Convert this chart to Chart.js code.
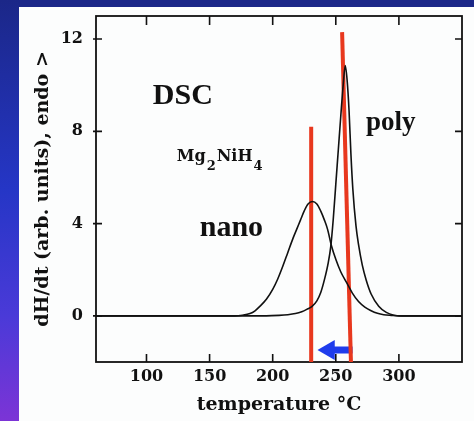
<!DOCTYPE html>
<html>
<head>
<meta charset="utf-8">
<script src="https://cdn.jsdelivr.net/npm/chart.js@4.4.1/dist/chart.umd.min.js"></script>
<style>
  body { margin:0; width:474px; height:421px; overflow:hidden; background:#fcfdfd; position:relative; }
  #topband { position:absolute; left:0; top:0; width:474px; height:7px; background:#1b2788; }
  #leftband { position:absolute; left:0; top:0; width:19px; height:421px;
    background:linear-gradient(#1b2788, #2536c6 45%, #4a3ad8 75%, #7c34d6); }
  canvas { position:absolute; left:0; top:0; }
</style>
</head>
<body>
<div id="topband"></div><div id="leftband"></div>
<canvas id="myChart" width="474" height="421"></canvas>
<script>
    // tick labels
    var xTicks = [100, 150, 200, 250, 300];
    var yTicks = [0, 4, 8, 12];

    // nano Mg2NiH4 curve
    var nanoTemp = [60, 170, 176, 182, 186, 190, 195, 200, 204, 208, 212, 216, 219, 222, 225, 228, 231.5,
                    235, 238, 241, 243.5, 246.5, 250, 254, 258.5, 263, 268, 273, 278, 283, 288, 294, 300, 350];
    var nanoHeat = [0, 0, 0.03, 0.1, 0.22, 0.42, 0.72, 1.15, 1.6, 2.15, 2.75, 3.35, 3.75, 4.15, 4.55, 4.85, 4.96,
                    4.85, 4.55, 4.15, 3.75, 3.05, 2.45, 1.9, 1.45, 1.0, 0.62, 0.38, 0.22, 0.11, 0.05, 0.02, 0, 0];

    // poly Mg2NiH4 curve
    var polyTemp = [60, 195, 205, 212, 218, 223, 227, 231, 235, 238, 241, 244, 246, 248, 250, 252, 254, 256, 257.5,
                    259, 260.5, 262, 263.5, 266, 268, 271, 274, 278, 284, 290, 296, 302, 350];
    var polyHeat = [0, 0, 0.02, 0.05, 0.1, 0.18, 0.28, 0.4, 0.65, 1.0, 1.57, 2.3, 3.0, 4.2, 5.7, 7.2, 8.7, 10.1, 10.85,
                    10.2, 8.9, 7.0, 5.5, 3.9, 3.1, 2.2, 1.57, 0.95, 0.42, 0.15, 0.03, 0, 0];

    // red peak markers (bottom, top)
    var nanoMarkT = [230.5, 230.5];
    var nanoMarkH = [-2, 8.2];
    var polyMarkT = [262, 255];
    var polyMarkH = [-2, 12.3];

    // blue arrow (tail -> head centre)
    var arrowT = [263.3, 244.6];
    var arrowH = [-1.48, -1.48];

    function pts(xs, ys) { return xs.map(function (x, i) { return {x: x, y: ys[i]}; }); }

    var labelFont = {family: 'DejaVu Serif', weight: 'bold', size: 16};
    var titleFont = {family: 'DejaVu Serif', weight: 'bold', size: 19};

    const frameTicks = {
        id: 'frameTicks',
        beforeDatasetsDraw(chart) {
            const ctx = chart.ctx, a = chart.chartArea, xs = chart.scales.x, ys = chart.scales.y;
            ctx.save();
            ctx.strokeStyle = '#111';
            ctx.lineWidth = 1.8;
            ctx.strokeRect(a.left, a.top, a.right - a.left, a.bottom - a.top);
            ctx.lineWidth = 1.6;
            ctx.beginPath();
            xTicks.forEach(function (v) {
                const px = xs.getPixelForValue(v);
                ctx.moveTo(px, a.bottom); ctx.lineTo(px, a.bottom - 8);
                ctx.moveTo(px, a.top); ctx.lineTo(px, a.top + 9);
            });
            yTicks.forEach(function (v) {
                const py = ys.getPixelForValue(v);
                ctx.moveTo(a.left - 3, py); ctx.lineTo(a.left + 6, py);
                ctx.moveTo(a.right, py); ctx.lineTo(a.right - 7, py);
            });
            ctx.stroke();
            ctx.restore();
        },
        afterDatasetsDraw(chart) {
            const ctx = chart.ctx, xs = chart.scales.x, ys = chart.scales.y;
            ctx.save();
            ctx.fillStyle = '#111';
            ctx.textBaseline = 'alphabetic';
            ctx.font = 'bold 30px "Liberation Serif"';
            ctx.fillText('DSC', xs.getPixelForValue(105), ys.getPixelForValue(9.17));
            ctx.font = 'bold 27px "Liberation Serif"';
            ctx.fillText('poly', xs.getPixelForValue(274), ys.getPixelForValue(8.04));
            ctx.font = 'bold 30px "Liberation Serif"';
            ctx.fillText('nano', xs.getPixelForValue(142.2), ys.getPixelForValue(3.45));
            // Mg2NiH4 with subscripts
            let x = xs.getPixelForValue(124), y = ys.getPixelForValue(6.7);
            const parts = [['Mg', 0, 16], ['2', 9, 13], ['NiH', 0, 16], ['4', 9, 13]];
            parts.forEach(function (p) {
                ctx.font = 'bold ' + p[2] + 'px "DejaVu Serif"';
                ctx.fillText(p[0], x, y + p[1]);
                x += ctx.measureText(p[0]).width + 1;
            });
            ctx.restore();
        }
    };

    const ctx = document.getElementById('myChart').getContext('2d');
    const myChart = new Chart(ctx, {
        type: 'line',
        data: {
            datasets: [{
                    label: 'nano',
                    data: pts(nanoTemp, nanoHeat),
                    borderColor: '#111',
                    borderWidth: 1.6,
                    pointRadius: 0,
                    cubicInterpolationMode: 'monotone'
                }, {
                    label: 'poly',
                    data: pts(polyTemp, polyHeat),
                    borderColor: '#111',
                    borderWidth: 1.6,
                    pointRadius: 0,
                    cubicInterpolationMode: 'monotone'
                }, {
                    label: 'nano peak',
                    data: pts(nanoMarkT, nanoMarkH),
                    borderColor: '#e8381e',
                    borderWidth: 4,
                    pointRadius: 0
                }, {
                    label: 'poly peak',
                    data: pts(polyMarkT, polyMarkH),
                    borderColor: '#e8381e',
                    borderWidth: 4,
                    pointRadius: 0
                }, {
                    label: 'shift',
                    data: pts(arrowT, arrowH),
                    borderColor: '#1f3cec',
                    borderWidth: 7,
                    pointRadius: [0, 11.5],
                    pointStyle: 'triangle',
                    rotation: -90,
                    pointBackgroundColor: '#1f3cec',
                    pointBorderWidth: 0
                }]
        },
        options: {
            responsive: false,
            animation: false,
            devicePixelRatio: 1,
            layout: {padding: {left: 0, right: 12, top: 16, bottom: 0}},
            plugins: {legend: {display: false}, tooltip: {enabled: false}},
            scales: {
                x: {
                    type: 'linear', min: 60, max: 350,
                    afterBuildTicks: function (s) { s.ticks = xTicks.map(function (v) { return {value: v}; }); },
                    afterFit: function (s) { s.height = 59; s.paddingLeft = 0; s.paddingRight = 0; },
                    grid: {display: false, drawTicks: false},
                    border: {display: false},
                    ticks: {font: labelFont, color: '#111', padding: 5, maxRotation: 0},
                    title: {display: true, text: 'temperature °C', font: titleFont, color: '#111', padding: {top: 0, bottom: 5}}
                },
                y: {
                    min: -2, max: 13,
                    afterBuildTicks: function (s) { s.ticks = yTicks.map(function (v) { return {value: v}; }); },
                    afterFit: function (s) { s.width = 96; s.paddingTop = 0; s.paddingBottom = 0; },
                    grid: {display: false, drawTicks: false},
                    border: {display: false},
                    ticks: {font: labelFont, color: '#111', padding: 13},
                    title: {display: true, text: 'dH/dt (arb. units), endo >', font: titleFont, color: '#111', padding: {top: 32, bottom: 0}}
                }
            }
        },
        plugins: [frameTicks]
    });
</script>
</body>
</html>
